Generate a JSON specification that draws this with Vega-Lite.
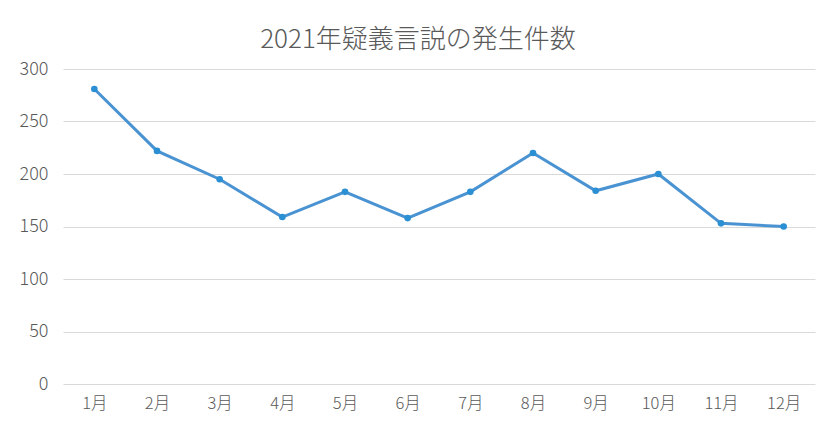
{
  "$schema": "https://vega.github.io/schema/vega-lite/v6.json",
  "autosize": {"type": "none"},
  "padding": {"left": 63, "top": 69, "right": 19, "bottom": 51},
  "width": 752,
  "height": 315,
  "background": "white",
  "title": {
    "text": "2021年疑義言説の発生件数",
    "font": "Noto Sans CJK JP",
    "fontSize": 26,
    "fontWeight": 300,
    "color": "#595959",
    "anchor": "middle",
    "dx": -21,
    "offset": 7
  },
  "data": {
    "values": [
      {"month": "1月", "count": 281},
      {"month": "2月", "count": 222},
      {"month": "3月", "count": 195},
      {"month": "4月", "count": 159},
      {"month": "5月", "count": 183},
      {"month": "6月", "count": 158},
      {"month": "7月", "count": 183},
      {"month": "8月", "count": 220},
      {"month": "9月", "count": 184},
      {"month": "10月", "count": 200},
      {"month": "11月", "count": 153},
      {"month": "12月", "count": 150}
    ]
  },
  "config": {
    "view": {"stroke": null},
    "axis": {
      "labelFont": "Noto Sans CJK JP",
      "labelFontWeight": 300,
      "labelColor": "#595959",
      "ticks": false,
      "domain": false,
      "title": null
    }
  },
  "encoding": {
    "x": {
      "field": "month",
      "type": "ordinal",
      "sort": ["1月","2月","3月","4月","5月","6月","7月","8月","9月","10月","11月","12月"],
      "scale": {"type": "point", "padding": 0.5},
      "axis": {"labelAngle": 0, "labelPadding": 11, "labelFontSize": 16.5, "grid": false}
    },
    "y": {
      "field": "count",
      "type": "quantitative",
      "scale": {"domain": [0, 300], "nice": false},
      "axis": {"values": [0, 50, 100, 150, 200, 250, 300], "gridColor": "#d9d9d9", "gridWidth": 1, "labelPadding": 15, "labelFontSize": 18}
    }
  },
  "layer": [
    {"mark": {"type": "line", "color": "#4a93d2", "strokeWidth": 3}},
    {"mark": {"type": "point", "filled": true, "color": "#2b8fd3", "size": 44, "opacity": 1}}
  ]
}
